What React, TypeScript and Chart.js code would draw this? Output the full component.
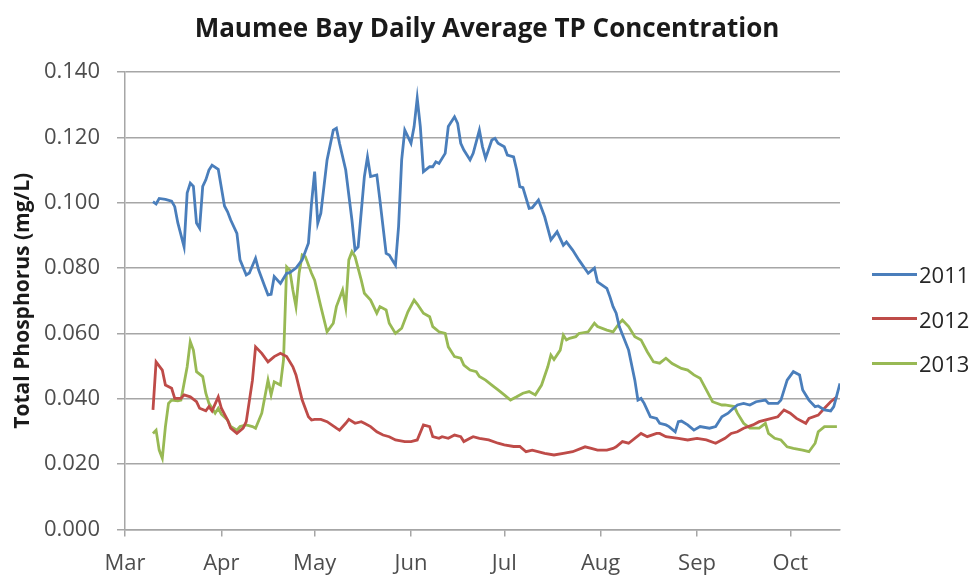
import React, { useEffect, useRef } from "react";
import { Chart, registerables } from "chart.js";

Chart.register(...registerables);

const TITLE = "Maumee Bay Daily Average TP Concentration";
const Y_TITLE = "Total Phosphorus (mg/L)";
const MONTH_LABELS = ["Mar", "Apr", "May", "Jun", "Jul", "Aug", "Sep", "Oct"];
// day offsets from Mar 1 of each month start
const MONTH_DAYS = [0, 31, 61, 92, 122, 153, 184, 214];
const X_MAX = 230;
const Y_MAX = 0.14;
const Y_STEP = 0.02;

const SERIES_LABELS = ["2011", "2012", "2013"];
const SERIES_COLORS = ["#4a7ebb", "#be4b48", "#98b954"];

// 2011 (day from Mar 1, mg/L)
const DAYS_2011 = [9, 10, 11, 13, 15, 16, 17, 19, 20, 21, 22, 23, 24, 25, 26, 27, 28, 30, 32, 33, 34, 36, 37, 39, 40, 42, 43, 45, 46, 47, 48, 50, 52, 53, 55, 57, 59, 60, 61, 62, 63, 65, 67, 68, 69, 71, 73, 74, 75, 77, 78, 79, 81, 82, 84, 85, 87, 88, 89, 90, 91, 92, 93, 94, 95, 96, 98, 99, 100, 101, 103, 104, 106, 107, 108, 109, 111, 112, 114, 115, 116, 118, 119, 120, 122, 123, 125, 126, 127, 128, 130, 131, 133, 135, 137, 139, 141, 142, 144, 146, 149, 151, 152, 155, 156, 157, 158, 159, 162, 164, 165, 166, 167, 169, 171, 172, 174, 175, 177, 178, 179, 181, 183, 185, 188, 190, 192, 194, 195, 197, 199, 201, 203, 206, 207, 210, 211, 213, 215, 217, 218, 220, 222, 223, 225, 227, 228, 230];
const TP_2011 = [0.1003, 0.0996, 0.1013, 0.101, 0.1005, 0.0988, 0.0938, 0.0865, 0.103, 0.106, 0.105, 0.0938, 0.0922, 0.105, 0.107, 0.110, 0.1115, 0.1102, 0.099, 0.0972, 0.0947, 0.0906, 0.0825, 0.0779, 0.0785, 0.083, 0.0794, 0.0743, 0.0718, 0.072, 0.0774, 0.0753, 0.0784, 0.0786, 0.080, 0.0825, 0.0876, 0.0998, 0.1095, 0.0937, 0.0968, 0.1131, 0.1222, 0.1228, 0.1182, 0.110, 0.0947, 0.0855, 0.0865, 0.108, 0.114, 0.108, 0.1085, 0.1008, 0.0845, 0.084, 0.0809, 0.0927, 0.1131, 0.1222, 0.1202, 0.1182, 0.1233, 0.132, 0.1233, 0.1095, 0.111, 0.111, 0.1125, 0.112, 0.1151, 0.1233, 0.1263, 0.1243, 0.1182, 0.1161, 0.1131, 0.1151, 0.1222, 0.1171, 0.1136, 0.1192, 0.1197, 0.1182, 0.1171, 0.1146, 0.114, 0.110, 0.1049, 0.1046, 0.0983, 0.0985, 0.1008, 0.0957, 0.0886, 0.0911, 0.087, 0.088, 0.0855, 0.0825, 0.0784, 0.080, 0.0758, 0.0738, 0.0712, 0.0682, 0.0662, 0.0621, 0.0549, 0.0457, 0.0396, 0.0401, 0.0386, 0.0345, 0.034, 0.0325, 0.032, 0.0315, 0.0299, 0.033, 0.0332, 0.032, 0.0304, 0.0315, 0.031, 0.0315, 0.0345, 0.0356, 0.0365, 0.0381, 0.0386, 0.0381, 0.0391, 0.0396, 0.0386, 0.0386, 0.0396, 0.0457, 0.0483, 0.0473, 0.0427, 0.0396, 0.0376, 0.0378, 0.0366, 0.0363, 0.0376, 0.0447];

// 2012
const DAYS_2012 = [9, 10, 12, 13, 15, 16, 18, 19, 21, 23, 24, 26, 27, 28, 30, 31, 33, 34, 36, 38, 39, 41, 42, 44, 46, 48, 50, 52, 54, 55, 57, 59, 60, 61, 63, 65, 68, 69, 71, 72, 74, 76, 77, 79, 81, 83, 85, 87, 90, 92, 94, 96, 98, 99, 101, 102, 104, 106, 108, 109, 111, 112, 114, 117, 120, 122, 125, 127, 129, 131, 135, 138, 141, 144, 148, 150, 152, 155, 157, 158, 160, 162, 166, 168, 171, 172, 174, 178, 181, 184, 187, 190, 193, 195, 197, 199, 202, 204, 208, 210, 212, 214, 216, 219, 220, 223, 225, 227, 229];
const TP_2012 = [0.0366, 0.0513, 0.0488, 0.0442, 0.0432, 0.0401, 0.0401, 0.0412, 0.0406, 0.0391, 0.0371, 0.0363, 0.0376, 0.0363, 0.0406, 0.0371, 0.0335, 0.031, 0.0294, 0.031, 0.033, 0.0457, 0.0559, 0.0539, 0.0513, 0.0529, 0.0539, 0.0529, 0.0498, 0.0473, 0.0396, 0.0345, 0.0335, 0.0337, 0.0337, 0.033, 0.031, 0.0304, 0.0325, 0.0337, 0.0325, 0.033, 0.0325, 0.0315, 0.0299, 0.0289, 0.0284, 0.0274, 0.0269, 0.0269, 0.0274, 0.032, 0.0315, 0.0284, 0.0279, 0.0284, 0.0279, 0.0289, 0.0284, 0.0269, 0.0279, 0.0284, 0.0279, 0.0274, 0.0264, 0.0259, 0.0254, 0.0254, 0.0238, 0.0243, 0.0233, 0.0228, 0.0233, 0.0238, 0.0253, 0.0248, 0.0243, 0.0243, 0.0248, 0.0253, 0.0269, 0.0264, 0.0294, 0.0284, 0.0294, 0.0294, 0.0284, 0.0279, 0.0274, 0.0279, 0.0274, 0.0264, 0.0279, 0.0294, 0.0299, 0.031, 0.032, 0.033, 0.034, 0.0345, 0.0366, 0.0356, 0.034, 0.0325, 0.034, 0.035, 0.0371, 0.0391, 0.0406];

// 2013
const DAYS_2013 = [9, 10, 11, 12, 13, 14, 15, 17, 18, 20, 21, 22, 23, 25, 26, 27, 28, 29, 30, 31, 33, 34, 36, 37, 39, 41, 42, 44, 46, 47, 48, 50, 51, 52, 53, 54, 55, 56, 57, 58, 60, 61, 63, 65, 67, 68, 70, 71, 72, 73, 74, 76, 77, 79, 81, 82, 84, 85, 87, 89, 91, 93, 94, 96, 98, 99, 101, 103, 104, 106, 108, 109, 111, 113, 114, 116, 118, 120, 122, 124, 126, 128, 130, 132, 134, 136, 137, 138, 140, 141, 142, 143, 145, 146, 149, 151, 152, 155, 157, 159, 160, 162, 164, 166, 168, 170, 172, 174, 176, 179, 181, 183, 185, 187, 189, 192, 193, 196, 197, 199, 201, 204, 206, 207, 209, 211, 213, 215, 218, 220, 222, 223, 225, 227, 229];
const TP_2013 = [0.0294, 0.0304, 0.0243, 0.0218, 0.0315, 0.0386, 0.0396, 0.0394, 0.0396, 0.0498, 0.0575, 0.0549, 0.0483, 0.0468, 0.0417, 0.0386, 0.0371, 0.0356, 0.0371, 0.0353, 0.0335, 0.0315, 0.0304, 0.0315, 0.032, 0.0315, 0.031, 0.0356, 0.0457, 0.0412, 0.0452, 0.0442, 0.052, 0.0804, 0.0794, 0.0733, 0.0682, 0.0784, 0.084, 0.0835, 0.0784, 0.0763, 0.0682, 0.0605, 0.0631, 0.0682, 0.0733, 0.068, 0.0825, 0.085, 0.0835, 0.0763, 0.0723, 0.0702, 0.0662, 0.0682, 0.0672, 0.0631, 0.060, 0.0616, 0.0666, 0.0702, 0.069, 0.0662, 0.0651, 0.0621, 0.0605, 0.060, 0.0559, 0.0529, 0.0524, 0.0503, 0.0488, 0.0483, 0.0468, 0.0457, 0.0442, 0.0427, 0.0412, 0.0396, 0.0406, 0.0417, 0.0422, 0.0412, 0.0442, 0.0498, 0.0534, 0.052, 0.0549, 0.0595, 0.058, 0.0585, 0.059, 0.060, 0.0605, 0.0631, 0.0621, 0.061, 0.0605, 0.0631, 0.0641, 0.0621, 0.059, 0.058, 0.0544, 0.0513, 0.0509, 0.0524, 0.0508, 0.0493, 0.0488, 0.0473, 0.0463, 0.0427, 0.0391, 0.0381, 0.0381, 0.0376, 0.0356, 0.0325, 0.031, 0.031, 0.0325, 0.0294, 0.0279, 0.0274, 0.0253, 0.0248, 0.0243, 0.0238, 0.0264, 0.0299, 0.0315, 0.0315, 0.0315];

const SERIES_DAYS = [DAYS_2011, DAYS_2012, DAYS_2013];
const SERIES_VALUES = [TP_2011, TP_2012, TP_2013];

const FONT = "'Open Sans', 'Liberation Sans', sans-serif";

export default function App() {
  const canvasRef = useRef<HTMLCanvasElement | null>(null);

  useEffect(() => {
    if (!canvasRef.current) return;
    const datasets = SERIES_LABELS.map((label, i) => ({
      label,
      data: SERIES_DAYS[i].map((d, j) => ({ x: d, y: SERIES_VALUES[i][j] })),
      borderColor: SERIES_COLORS[i],
      backgroundColor: SERIES_COLORS[i],
      borderWidth: 2.8,
      pointRadius: 0,
      tension: 0,
      fill: false,
      yAxisID: "y",
    }));
    const chart = new Chart(canvasRef.current, {
      type: "line",
      data: { datasets },
      options: {
        animation: false,
        responsive: true,
        maintainAspectRatio: false,
        layout: { padding: 0 },
        plugins: {
          legend: { display: false },
          tooltip: { enabled: false },
          title: {
            display: true,
            text: TITLE,
            color: "#1a1a1a",
            font: { family: FONT, size: 26, weight: "bold" },
            padding: { top: 14, bottom: 26.8 },
          },
        },
        scales: {
          x: {
            type: "linear",
            min: 0,
            max: X_MAX,
            afterFit: (scale: any) => {
              scale.height = 47.5;
            },
            afterBuildTicks: (scale: any) => {
              scale.ticks = MONTH_DAYS.map((v) => ({ value: v }));
            },
            ticks: {
              autoSkip: false,
              maxRotation: 0,
              color: "#4d4d4d",
              padding: 14,
              font: { family: FONT, size: 22 },
              callback: (v: any) => {
                const idx = MONTH_DAYS.indexOf(Number(v));
                return idx >= 0 ? MONTH_LABELS[idx] : "";
              },
            },
            grid: {
              drawOnChartArea: false,
              drawTicks: true,
              tickLength: 7,
              color: "#a6a6a6",
              lineWidth: 1.5,
            },
            border: { display: true, color: "#a6a6a6", width: 1.5 },
          },
          y: {
            min: 0,
            max: Y_MAX,
            afterFit: (scale: any) => {
              scale.width = 125;
            },
            ticks: {
              stepSize: Y_STEP,
              color: "#4d4d4d",
              padding: 17,
              font: { family: FONT, size: 22 },
              callback: (v: any) => Number(v).toFixed(3),
            },
            grid: {
              color: "#a6a6a6",
              lineWidth: 1.5,
              drawTicks: true,
              tickLength: 8,
            },
            border: { display: true, color: "#a6a6a6", width: 1.5 },
            title: {
              display: true,
              text: Y_TITLE,
              color: "#1a1a1a",
              font: { family: FONT, size: 21, weight: "bold" },
              padding: { top: 10, bottom: 0 },
            },
          },
          // empty right-hand axis that only reserves room for the legend
          yRight: {
            position: "right",
            display: true,
            min: 0,
            max: Y_MAX,
            afterFit: (scale: any) => {
              scale.width = 134;
            },
            ticks: { display: false },
            grid: { display: false, drawTicks: false },
            border: { display: false },
          },
        },
      },
    });
    return () => chart.destroy();
  }, []);

  return (
    <div
      style={{
        position: "absolute",
        left: 0,
        top: 0,
        width: 974,
        height: 577,
        background: "#ffffff",
        fontFamily: FONT,
      }}
    >
      <div style={{ position: "absolute", left: 0, top: 0, width: 974, height: 577 }}>
        <canvas ref={canvasRef} />
      </div>
      {SERIES_LABELS.map((label, i) => (
        <div
          key={label}
          style={{
            position: "absolute",
            left: 872,
            top: 274 + i * 44.5 - 15,
            height: 30,
            display: "flex",
            alignItems: "center",
          }}
        >
          <span
            style={{
              display: "inline-block",
              width: 45,
              height: 3,
              background: SERIES_COLORS[i],
              marginRight: 2,
            }}
          />
          <span style={{ fontSize: 22, color: "#262626", lineHeight: "30px" }}>{label}</span>
        </div>
      ))}
    </div>
  );
}
